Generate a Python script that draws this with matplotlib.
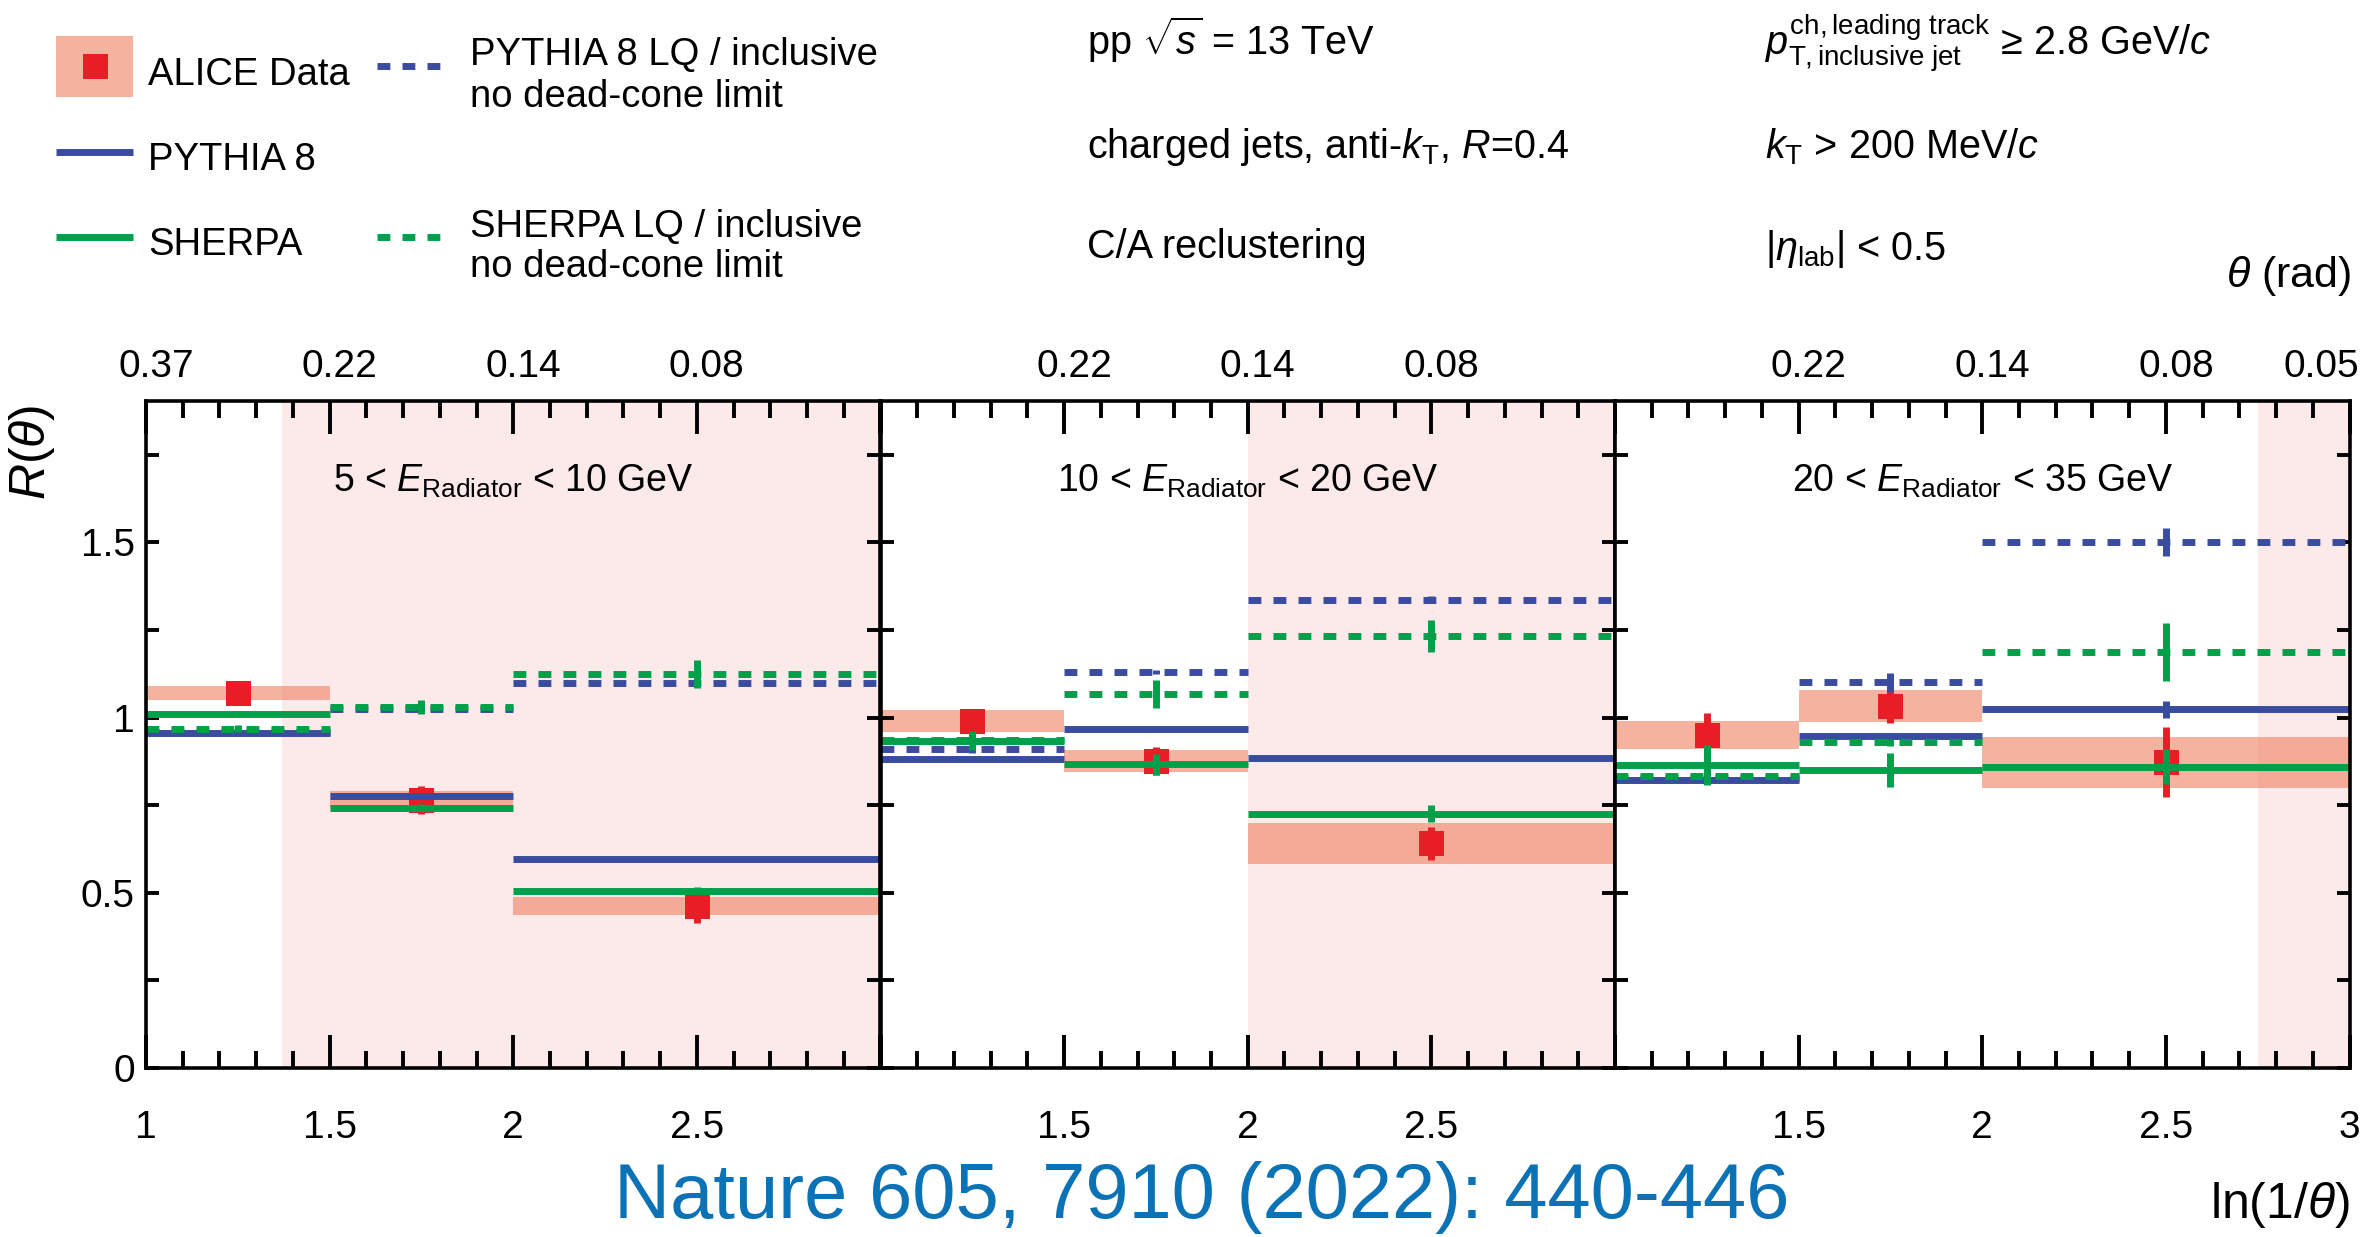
import numpy as np
import matplotlib
matplotlib.use("Agg")
import matplotlib.pyplot as plt
from matplotlib.lines import Line2D
from matplotlib.patches import Rectangle
from matplotlib.transforms import Affine2D, ScaledTranslation
from matplotlib.ticker import FixedLocator, MultipleLocator, NullLocator

plt.rcParams['font.family'] = ['Liberation Sans', 'DejaVu Sans']
plt.rcParams['mathtext.fontset'] = 'custom'
plt.rcParams['mathtext.rm'] = 'Liberation Sans'
plt.rcParams['mathtext.it'] = 'Liberation Sans:italic'
plt.rcParams['mathtext.bf'] = 'Liberation Sans:bold'
plt.rcParams['mathtext.sf'] = 'Liberation Sans'

# ---------------- data ----------------
bin_lo = [1.0, 1.5, 2.0]
bin_hi = [1.5, 2.0, 3.0]
bin_center = [1.25, 1.75, 2.5]

panel_labels = [r'5 < $E_{\mathrm{Radiator}}$ < 10 GeV',
                r'10 < $E_{\mathrm{Radiator}}$ < 20 GeV',
                r'20 < $E_{\mathrm{Radiator}}$ < 35 GeV']
dead_cone_start = [1.37, 2.0, 2.75]

# ALICE data (per panel, per bin)
alice_val = [[1.070, 0.765, 0.463],
             [0.990, 0.876, 0.641],
             [0.950, 1.033, 0.872]]
alice_stat = [[0.02, 0.04, 0.05],
              [0.02, 0.04, 0.048],
              [0.062, 0.05, 0.10]]
alice_sys = [[0.020, 0.026, 0.026],
             [0.031, 0.031, 0.059],
             [0.040, 0.045, 0.073]]

pythia_val = [[0.955, 0.775, 0.595],
              [0.883, 0.967, 0.885],
              [0.823, 0.947, 1.023]]
pythia_err = [[0.005, 0.005, 0.005],
              [0.005, 0.005, 0.005],
              [0.005, 0.005, 0.025]]

sherpa_val = [[1.011, 0.742, 0.506],
              [0.933, 0.867, 0.725],
              [0.864, 0.850, 0.859]]
sherpa_err = [[0.005, 0.01, 0.01],
              [0.01, 0.03, 0.024],
              [0.057, 0.048, 0.05]]

pythia_lq_val = [[0.958, 1.025, 1.099],
                 [0.909, 1.130, 1.336],
                 [0.826, 1.100, 1.502]]
pythia_lq_err = [[0.005, 0.005, 0.01],
                 [0.01, 0.005, 0.01],
                 [0.01, 0.028, 0.04]]

sherpa_lq_val = [[0.968, 1.030, 1.123],
                 [0.935, 1.066, 1.233],
                 [0.833, 0.929, 1.188]]
sherpa_lq_err = [[0.01, 0.02, 0.04],
                 [0.027, 0.04, 0.045],
                 [0.01, 0.01, 0.083]]

x_major = [1.0, 1.5, 2.0, 2.5, 3.0]
bottom_labels = [['1', '1.5', '2', '2.5', ''],
                 ['', '1.5', '2', '2.5', ''],
                 ['', '1.5', '2', '2.5', '3']]
top_labels = [['0.37', '0.22', '0.14', '0.08', ''],
              ['', '0.22', '0.14', '0.08', ''],
              ['', '0.22', '0.14', '0.08', '0.05']]
y_major = [0, 0.5, 1, 1.5]
y_major_labels = ['0', '0.5', '1', '1.5']

# ---------------- style ----------------
RED = '#E81D25'
BAND = '#EF8060'
PINK = '#FCEAEA'
BLUE = '#3A4C9E'
GREEN = '#00A04B'
CITE = '#0B72B5'
LW = 5.0
DASH = (0, (1.85, 1.75))

W, H = 2371, 1237
fig = plt.figure(figsize=(W / 100, H / 100), dpi=100)
pix = Affine2D().scale(1 / W, -1 / H).translate(0, 1) + fig.transFigure

ax_left0 = 146.0
ax_w = 734.5
ax_top = 401.0
ax_bot = 1068.0

axes = []
for p in range(3):
    ax = fig.add_axes([(ax_left0 + p * ax_w) / W, (H - ax_bot) / H,
                       ax_w / W, (ax_bot - ax_top) / H])
    axes.append(ax)
    ax.set_xlim(1, 3)
    ax.set_ylim(0, 1.903)

    ax.axvspan(dead_cone_start[p], 3, color=PINK, lw=0, zorder=0)

    lo = np.array(bin_lo)
    hi = np.array(bin_hi)
    xc = np.array(bin_center)

    # systematic band
    v = np.array(alice_val[p]); s = np.array(alice_sys[p])
    ax.bar(lo, 2 * s, width=hi - lo, bottom=v - s, align='edge',
           color=BAND, alpha=0.6, lw=0, zorder=1)
    # stat errors + marker
    st = np.array(alice_stat[p])
    ax.vlines(xc, v - st, v + st, colors=RED, lw=LW, capstyle='butt', zorder=2)
    ax.plot(xc, v, 's', color=RED, ms=18, mew=0, zorder=2.5)

    series = [(pythia_val, pythia_err, BLUE, 'solid', 3),
              (pythia_lq_val, pythia_lq_err, BLUE, DASH, 4),
              (sherpa_val, sherpa_err, GREEN, 'solid', 5),
              (sherpa_lq_val, sherpa_lq_err, GREEN, DASH, 6)]
    for vals, errs, col, ls, z in series:
        y = np.array(vals[p]); e = np.array(errs[p])
        ax.hlines(y, lo, hi, colors=col, lw=LW, linestyles=ls,
                  capstyle='butt', zorder=z)
        ax.vlines(xc, y - e, y + e, colors=col, lw=LW, capstyle='butt', zorder=z)

    ax.text(2.0, 1.644, panel_labels[p], ha='center', va='baseline',
            fontsize=27, zorder=10)

    # ticks
    for sp in ax.spines.values():
        sp.set_linewidth(2.6)
        sp.set_zorder(8)
    ax.xaxis.set_major_locator(FixedLocator(x_major))
    ax.xaxis.set_minor_locator(MultipleLocator(0.1))
    ax.set_xticklabels(bottom_labels[p])
    ax.yaxis.set_major_locator(FixedLocator(y_major))
    ax.yaxis.set_minor_locator(MultipleLocator(0.25))
    if p == 0:
        ax.set_yticklabels(y_major_labels)
    else:
        ax.set_yticklabels([''] * len(y_major))
    ax.tick_params(axis='x', which='both', direction='in', top=True, bottom=True,
                   width=2.8, labelsize=28, pad=30)
    ax.tick_params(axis='x', which='major', length=24)
    ax.tick_params(axis='x', which='minor', length=12)
    ax.tick_params(axis='y', which='both', direction='in', left=True, right=True,
                   width=2.8, length=9.5, labelsize=28, pad=8)

    sec = ax.secondary_xaxis('top')
    sec.set_xticks(x_major, labels=top_labels[p])
    sec.xaxis.set_minor_locator(NullLocator())
    sec.tick_params(length=0, labelsize=28, pad=11.5)
    for sp in sec.spines.values():
        sp.set_visible(False)
    off = ScaledTranslation(10 / 100, 0, fig.dpi_scale_trans)
    for lab in sec.get_xticklabels():
        lab.set_transform(lab.get_transform() + off)
        if lab.get_text() == '0.05':
            lab.set_ha('right')

axes[0].set_ylabel(r'$R(\theta)$', fontsize=36)
axes[0].yaxis.set_label_coords((57 - 146) / ax_w, (1068 - 452) / 667)
axes[2].set_xlabel(r'ln(1/$\theta$)', fontsize=36, ha='right')
axes[2].xaxis.set_label_coords(1.0, (1068 - 1180) / 667)

# ---------------- legend ----------------
fig.add_artist(Rectangle((55.7, 96.7), 77.5, -61, transform=pix,
                         facecolor=BAND, alpha=0.6, lw=0))
fig.add_artist(Line2D([95], [66], marker='s', ms=18, color=RED, mew=0,
                      transform=pix))
fig.add_artist(Line2D([55.7, 133.2], [151.7, 151.7], color=BLUE, lw=LW,
                      solid_capstyle='butt', transform=pix))
fig.add_artist(Line2D([55.7, 133.2], [237.3, 237.3], color=GREEN, lw=LW,
                      solid_capstyle='butt', transform=pix))
fig.add_artist(Line2D([377, 441], [66, 66], color=BLUE, lw=LW, ls=DASH,
                      dash_capstyle='butt', transform=pix))
fig.add_artist(Line2D([377, 441], [237.3, 237.3], color=GREEN, lw=LW, ls=DASH,
                      dash_capstyle='butt', transform=pix))
LFS = 27.5
fig.text(148, 85, 'ALICE Data', transform=pix, fontsize=LFS, va='baseline')
fig.text(148, 170, 'PYTHIA 8', transform=pix, fontsize=LFS, va='baseline')
fig.text(148, 255, 'SHERPA', transform=pix, fontsize=LFS, va='baseline')
fig.text(469.6, 65, 'PYTHIA 8 LQ / inclusive', transform=pix, fontsize=LFS, va='baseline')
fig.text(469.6, 107.3, 'no dead-cone limit', transform=pix, fontsize=LFS, va='baseline')
fig.text(469.6, 236.7, 'SHERPA LQ / inclusive', transform=pix, fontsize=LFS, va='baseline')
fig.text(469.6, 277.3, 'no dead-cone limit', transform=pix, fontsize=LFS, va='baseline')

# ---------------- info text ----------------
IFS = 28.5
fig.text(1087, 55, r'pp $\sqrt{s}$ = 13 TeV', transform=pix, fontsize=IFS, va='baseline')
fig.text(1087, 158, r'charged jets, anti-$k_{\mathrm{T}}$, $R$=0.4', transform=pix,
         fontsize=IFS, va='baseline')
fig.text(1087, 258, 'C/A reclustering', transform=pix, fontsize=IFS, va='baseline')
fig.text(1765, 55, r'$p_{\mathrm{T,inclusive\ jet}}^{\mathrm{ch,leading\ track}}$ ≥ 2.8 GeV/$c$',
         transform=pix, fontsize=IFS, va='baseline')
fig.text(1765, 158, r'$k_{\mathrm{T}}$ > 200 MeV/$c$', transform=pix, fontsize=IFS, va='baseline')
fig.text(1765, 260, r'|$\eta_{\mathrm{lab}}$| < 0.5', transform=pix, fontsize=IFS, va='baseline')
fig.text(2351, 287, r'$\theta$ (rad)', transform=pix, fontsize=31, va='baseline', ha='right')

fig.text(1202, 1218, 'Nature 605, 7910 (2022): 440-446', transform=pix, fontsize=56,
         color=CITE, ha='center', va='baseline')

fig.savefig('out.png', dpi=100, facecolor='white')
